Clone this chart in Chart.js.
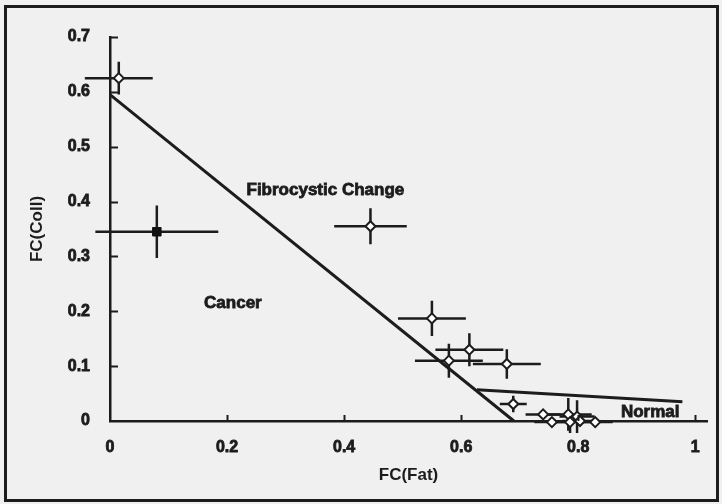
<!DOCTYPE html>
<html>
<head>
<meta charset="utf-8">
<script src="https://cdn.jsdelivr.net/npm/chart.js@4.4.1/dist/chart.umd.min.js"></script>
<style>
  html, body { margin: 0; padding: 0; background: #f0f0f0; }
</style>
</head>
<body>
<canvas id="fc-chart" width="722" height="504"></canvas>
<script>
// Samples (open diamonds) - FC(Fat) vs FC(Coll) with error bars
const sampleFat = [0.015, 0.445, 0.55, 0.579, 0.614, 0.678, 0.689, 0.74, 0.755, 0.783, 0.786, 0.798, 0.803, 0.829];
const sampleColl = [0.625, 0.355, 0.187, 0.11, 0.13, 0.104, 0.031, 0.012, -0.002, 0.012, -0.002, 0.008, 0.0, -0.002];
const sampleFatErr = [0.058, 0.062, 0.058, 0.058, 0.058, 0.058, 0.023, 0.03, 0.03, 0.04, 0.04, 0.03, 0.03, 0.03];
const sampleCollErr = [0.03, 0.033, 0.032, 0.031, 0.03, 0.027, 0.015, 0.005, 0.005, 0.03, 0.02, 0.03, 0.005, 0.005];

// Cancer sample (filled square)
const cancerFat = [0.08];
const cancerColl = [0.345];
const cancerFatErr = [0.105];
const cancerCollErr = [0.048];

// Decision boundaries
const boundaryAFat = [0, 0.69];
const boundaryAColl = [0.595, 0];
const boundaryBFat = [0.627, 0.978];
const boundaryBColl = [0.057, 0.035];

// Region labels
const regionNames = ["Fibrocystic Change", "Cancer", "Normal"];
const regionFat = [0.368, 0.21, 0.923];
const regionColl = [0.42, 0.215, 0.015];

const xTicks = [0, 0.2, 0.4, 0.6, 0.8, 1];
const yTicks = [0, 0.1, 0.2, 0.3, 0.4, 0.5, 0.6, 0.7];

const toPoints = (xs, ys) => xs.map((v, i) => ({ x: v, y: ys[i] }));
const ink = "#1c1c1c";
const font = "'Liberation Sans', Arial, sans-serif";

// grey scanned-paper background and frame
const paperPlugin = {
  id: "paper",
  beforeDraw(chart) {
    const ctx = chart.ctx;
    ctx.save();
    ctx.fillStyle = "#f0f0f0";
    ctx.fillRect(0, 0, chart.width, chart.height);
    ctx.strokeStyle = ink;
    ctx.lineWidth = 3;
    ctx.strokeRect(5.5, 6.5, 712, 494);
    ctx.restore();
  },
};

// error bars, drawn under the markers
const errorBarPlugin = {
  id: "errorBars",
  beforeDatasetsDraw(chart) {
    const { ctx, scales: { x, y } } = chart;
    ctx.save();
    ctx.strokeStyle = ink;
    ctx.lineWidth = 2.5;
    const drawBars = (xs, ys, xe, ye) => {
      xs.forEach((v, i) => {
        const px = x.getPixelForValue(v);
        const py = y.getPixelForValue(ys[i]);
        ctx.beginPath();
        ctx.moveTo(x.getPixelForValue(v - xe[i]), py);
        ctx.lineTo(x.getPixelForValue(v + xe[i]), py);
        ctx.moveTo(px, y.getPixelForValue(ys[i] - ye[i]));
        ctx.lineTo(px, y.getPixelForValue(ys[i] + ye[i]));
        ctx.stroke();
      });
    };
    drawBars(sampleFat, sampleColl, sampleFatErr, sampleCollErr);
    drawBars(cancerFat, cancerColl, cancerFatErr, cancerCollErr);
    ctx.restore();
  },
};

// inward tick marks + region labels
const annotatePlugin = {
  id: "annotate",
  afterDraw(chart) {
    const { ctx, scales: { x, y } } = chart;
    const x0 = x.getPixelForValue(0);
    const y0 = y.getPixelForValue(0);
    ctx.save();
    ctx.strokeStyle = ink;
    ctx.lineWidth = 2;
    ctx.beginPath();
    xTicks.slice(1).forEach((v) => {
      const px = Math.round(x.getPixelForValue(v)) + 0.5;
      ctx.moveTo(px, y0);
      ctx.lineTo(px, y0 - 6);
    });
    yTicks.slice(1).forEach((v) => {
      const py = Math.round(y.getPixelForValue(v)) + 0.5;
      ctx.moveTo(x0, py);
      ctx.lineTo(x0 + 8, py);
    });
    ctx.stroke();

    ctx.fillStyle = ink;
    ctx.lineWidth = 0.8;
    ctx.font = "bold 17px " + font;
    ctx.textAlign = "center";
    ctx.textBaseline = "middle";
    regionNames.forEach((name, i) => {
      const px = x.getPixelForValue(regionFat[i]);
      const py = y.getPixelForValue(regionColl[i]);
      ctx.fillText(name, px, py);
      ctx.strokeText(name, px, py);
    });
    ctx.restore();
  },
};

const ctx = document.getElementById("fc-chart").getContext("2d");
new Chart(ctx, {
  type: "scatter",
  data: {
    datasets: [
      {
        label: "Samples",
        data: toPoints(sampleFat, sampleColl),
        pointStyle: "rectRot",
        pointRadius: 5,
        backgroundColor: "#ffffff",
        borderColor: ink,
        borderWidth: 2,
        clip: false,
      },
      {
        label: "Cancer",
        data: toPoints(cancerFat, cancerColl),
        pointStyle: "rect",
        pointRadius: 6,
        backgroundColor: "#111111",
        borderColor: "#111111",
        borderWidth: 1,
        clip: false,
      },
      {
        label: "Boundary A",
        data: toPoints(boundaryAFat, boundaryAColl),
        showLine: true,
        borderColor: ink,
        borderWidth: 3,
        pointRadius: 0,
        clip: false,
      },
      {
        label: "Boundary B",
        data: toPoints(boundaryBFat, boundaryBColl),
        showLine: true,
        borderColor: ink,
        borderWidth: 3,
        pointRadius: 0,
        clip: false,
      },
    ],
  },
  options: {
    responsive: false,
    animation: false,
    layout: { padding: { left: 0, top: 37, right: 15, bottom: 0 } },
    plugins: {
      legend: { display: false },
      tooltip: { enabled: false },
    },
    scales: {
      x: {
        type: "linear",
        min: 0,
        max: 1.02,
        afterFit: (scale) => { scale.height = 83; },
        grid: { display: false, drawTicks: false },
        border: { display: true, color: ink, width: 2.5 },
        ticks: {
          stepSize: 0.2,
          includeBounds: false,
          padding: 17,
          color: ink,
          textStrokeColor: ink,
          textStrokeWidth: 0.8,
          font: { family: font, size: 16, weight: "bold" },
          callback: (v) => String(+v.toFixed(1)),
        },
        title: {
          display: true,
          text: "FC(Fat)",
          color: ink,
          font: { family: font, size: 17, weight: "bold" },
          padding: { top: 0, bottom: 18 },
        },
      },
      y: {
        type: "linear",
        min: 0,
        max: 0.7,
        afterFit: (scale) => { scale.width = 110; },
        grid: { display: false, drawTicks: false },
        border: { display: true, color: ink, width: 2.5 },
        ticks: {
          stepSize: 0.1,
          padding: 20,
          color: ink,
          textStrokeColor: ink,
          textStrokeWidth: 0.8,
          font: { family: font, size: 16, weight: "bold" },
          callback: (v) => String(+v.toFixed(1)),
        },
        title: {
          display: true,
          text: "FC(Coll)",
          color: ink,
          font: { family: font, size: 17, weight: "bold" },
          padding: { top: 27, bottom: 0 },
        },
      },
    },
  },
  plugins: [paperPlugin, errorBarPlugin, annotatePlugin],
});
</script>
</body>
</html>
